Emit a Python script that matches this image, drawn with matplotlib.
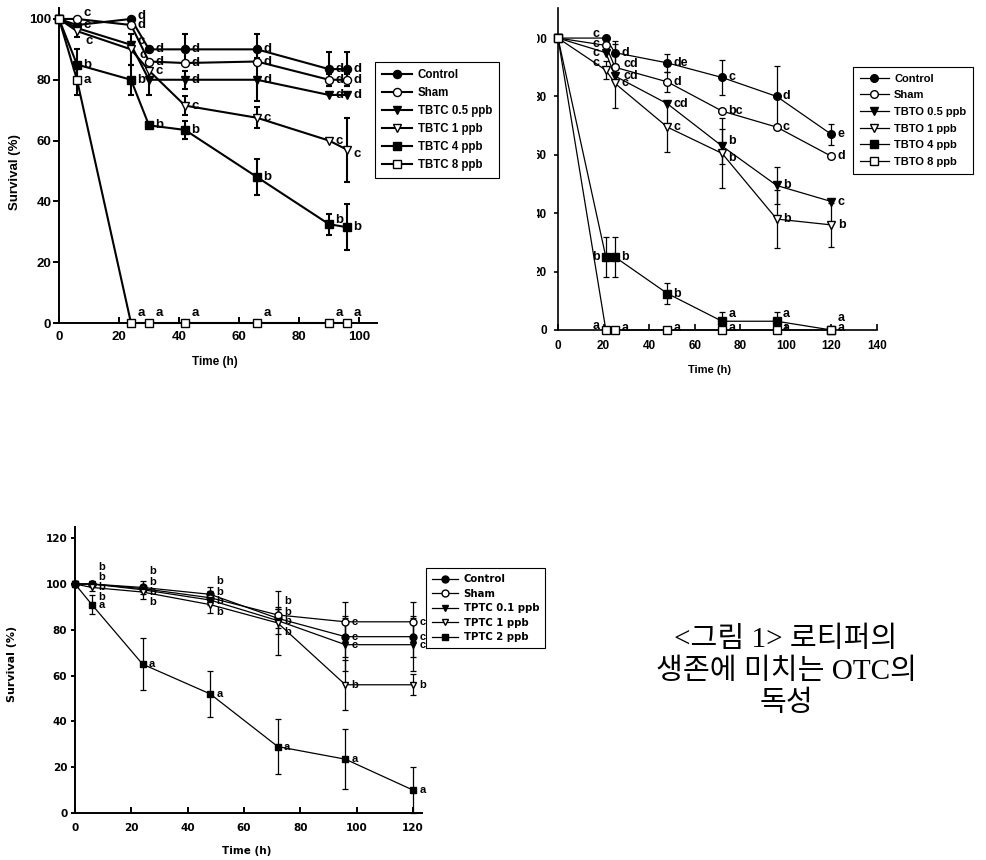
import matplotlib
matplotlib.use('Agg')
import matplotlib.pyplot as plt
from matplotlib.transforms import Bbox, TransformedBbox

W, H = 986, 860

# ---------------- data ----------------
# panel 1 : TBTC
tbtc_time = [0, 6, 24, 30, 42, 66, 90, 96]
tbtc_names = ['Control', 'Sham', 'TBTC 0.5 ppb', 'TBTC 1 ppb', 'TBTC 4 ppb', 'TBTC 8 ppb']
tbtc_mean = [
    [100, 98, 100, 90, 90, 90, 83.5, 83.5],
    [100, 100, 98, 86, 85.5, 86, 80, 80],
    [100, 97, 91.5, 80, 80, 80, 75, 75],
    [100, 96, 90, 83, 71.5, 67.5, 60, 57],
    [100, 85, 80, 65, 63.5, 48, 32.5, 31.5],
    [100, 80, 0, 0, 0, 0, 0, 0],
]
tbtc_err = [
    [0, 0, 0, 0, 5, 5, 5.5, 5.5],
    [0, 0, 0, 0, 0, 0, 2, 2],
    [0, 0, 0, 5, 3, 7, 0, 0],
    [0, 2, 5, 0, 3, 3.5, 0, 10.5],
    [0, 5, 5, 0, 3, 6, 3.5, 7.5],
    [0, 5, 0, 0, 0, 0, 0, 0],
]
tbtc_sig = [
    ['', 'c', 'd', 'd', 'd', 'd', 'd', 'd'],
    ['', 'c', 'd', 'd', 'd', 'd', 'd', 'd'],
    ['', '', 'c', '', 'd', 'd', 'd', 'd'],
    ['', 'c', 'c', 'c', 'c', 'c', 'c', 'c'],
    ['', 'b', 'b', 'b', 'b', 'b', 'b', 'b'],
    ['', 'a', 'a', 'a', 'a', 'a', 'a', 'a'],
]

# panel 2 : TBTO
tbto_time = [0, 21, 25, 48, 72, 96, 120]
tbto_names = ['Control', 'Sham', 'TBTO 0.5 ppb', 'TBTO 1 ppb', 'TBTO 4 ppb', 'TBTO 8 ppb']
tbto_mean = [
    [100, 100, 95, 91.5, 86.5, 80, 67],
    [100, 97.5, 90, 85, 75, 69.5, 59.5],
    [100, 95, 87, 77.5, 63, 49.5, 44],
    [100, 89, 84.5, 69.5, 60.5, 38, 36],
    [100, 25, 25, 12.5, 3, 3, 0],
    [100, 0, 0, 0, 0, 0, 0],
]
tbto_err = [
    [0, 0, 4, 3, 6, 10.5, 3.5],
    [0, 0, 0, 3.5, 0, 0, 0],
    [0, 0, 11, 0, 6, 6.5, 0],
    [0, 3, 0, 8.5, 12, 10, 7.5],
    [0, 7, 7, 3.5, 3, 3, 0],
    [0, 0, 0, 0, 0, 0, 0],
]
tbto_sig = [
    ['', 'c', 'd', 'de', 'c', 'd', 'e'],
    ['', 'c', 'cd', 'd', 'bc', 'c', 'd'],
    ['', 'c', 'cd', 'cd', 'b', 'b', 'c'],
    ['', 'c', 'c', 'c', 'b', 'b', 'b'],
    ['', 'b', 'b', 'b', 'a', 'a', 'a'],
    ['', 'a', 'a', 'a', 'a', 'a', 'a'],
]

# panel 3 : TPTC
tptc_time = [0, 6, 24, 48, 72, 96, 120]
tptc_names = ['Control', 'Sham', 'TPTC 0.1 ppb', 'TPTC 1 ppb', 'TPTC 2 ppb']
tptc_mean = [
    [100, 100, 98.5, 95.5, 85, 77, 77],
    [100, 100, 98, 94, 86.5, 83.5, 83.5],
    [100, 100, 97.5, 93, 84, 73.5, 73.5],
    [100, 98.5, 96.5, 91, 83, 56, 56],
    [100, 91, 65, 52, 29, 23.5, 10],
]
tptc_err = [
    [0, 0, 3, 3, 4, 9, 9],
    [0, 0, 0, 3, 2.5, 8.5, 8.5],
    [0, 0, 0, 0, 6, 11.5, 11.5],
    [0, 1.5, 3, 3.5, 14, 11, 4.5],
    [0, 4, 11.5, 10, 12, 13, 10],
]
tptc_sig = [
    ['', 'b', 'b', 'b', 'b', 'c', 'c'],
    ['', 'b', 'b', 'b', 'b', 'c', 'c'],
    ['', 'b', 'b', 'b', 'b', 'c', 'c'],
    ['', 'b', 'b', 'b', 'b', 'b', 'b'],
    ['', 'a', 'a', 'a', 'a', 'a', 'a'],
]

caption = ['<그림 1> 로티퍼의', '생존에 미치는 OTC의', '독성']

# marker style per series: (marker, face colour)
styles = [('o', 'black'), ('o', 'white'), ('v', 'black'), ('v', 'white'),
          ('s', 'black'), ('s', 'white')]


def fx(px):
    return px / W


def fy(py):
    return 1 - py / H


def axes_at(fig, x0, x1, ytop, ybot):
    return fig.add_axes([fx(x0), fy(ybot), (x1 - x0) / W, (ybot - ytop) / H])


def draw(ax, t, means, errs, sigs, lw, ms, cap, sfont, nudge, skip_sig=()):
    lines = []
    for i, (m, e) in enumerate(zip(means, errs)):
        mk, fc = styles[i]
        idx = [k for k in range(len(t)) if e[k] > 0]
        if idx:
            ax.errorbar([t[k] for k in idx], [m[k] for k in idx],
                        yerr=[e[k] for k in idx], fmt='none', ecolor='black',
                        elinewidth=lw, capsize=cap, capthick=lw,
                        clip_on=False, zorder=2)
        ln, = ax.plot(t, m, color='black', lw=lw, marker=mk, ms=ms, mfc=fc,
                      mec='black', mew=1.0, clip_on=False, zorder=3)
        lines.append(ln)
        for k, s in enumerate(sigs[i]):
            if not s or (i, k) in skip_sig:
                continue
            dx, dy, ha = nudge.get((i, k), (4.5, 0, 'left'))
            ax.annotate(s, (t[k], m[k]), xytext=(dx, dy),
                        textcoords='offset points', ha=ha, va='center',
                        fontsize=sfont, fontweight='bold', family='Liberation Sans',
                        annotation_clip=False, zorder=4)
    return lines


def style_axes(ax, lw, font, fam, xpad, ypad, ylen):
    for s in ['top', 'right']:
        ax.spines[s].set_visible(False)
    for s in ['left', 'bottom']:
        ax.spines[s].set_linewidth(lw)
    ax.tick_params(axis='x', direction='in', length=4, width=lw, pad=xpad)
    ax.tick_params(axis='y', direction='out', length=ylen, width=lw, pad=ypad)
    for lab in ax.get_xticklabels() + ax.get_yticklabels():
        lab.set_fontsize(font)
        lab.set_fontweight('bold')
        lab.set_family(fam)


def add_legend(fig, handles, names, x, y, font, fam, spacing, hlen):
    leg = fig.legend(handles, names, loc='upper left',
                     bbox_to_anchor=(fx(x), fy(y)), bbox_transform=fig.transFigure,
                     borderaxespad=0, fancybox=False, framealpha=1,
                     edgecolor='black', handlelength=hlen, handletextpad=0.5,
                     labelspacing=spacing, borderpad=0.6,
                     prop={'family': fam, 'weight': 'bold', 'size': font})
    leg.get_frame().set_linewidth(0.8)
    return leg


fig = plt.figure(figsize=(W / 100, H / 100), dpi=100)

# ---------------- panel 1 ----------------
ax1 = axes_at(fig, 59, 377, 8, 323)
ax1.set_xlim(0, 106)
ax1.set_ylim(0, 103.6)
ax1.set_xticks([0, 20, 40, 60, 80, 100])
ax1.set_yticks([0, 20, 40, 60, 80, 100])
nudge1 = {
    (1, 1): (4.5, 4.5, 'left'), (3, 1): (6, -7, 'left'),
    (0, 2): (4.5, 2, 'left'), (2, 2): (5, 2.5, 'left'), (3, 2): (6, -4, 'left'),
    (4, 6): (4.5, 3, 'left'), (3, 7): (5, -3, 'left'),
}
for k in range(2, len(tbtc_time)):
    nudge1[(5, k)] = (4.5, 7, 'left')
lines1 = draw(ax1, tbtc_time, tbtc_mean, tbtc_err, tbtc_sig, lw=1.5, ms=5.8,
              cap=2.5, sfont=9.5, nudge=nudge1)
style_axes(ax1, 1.4, 9.5, 'Liberation Sans', 6, 1.5, 4)
fig.text(fx(215), fy(362), 'Time (h)', ha='center', va='center',
         fontsize=8.5, fontweight='bold', family='Liberation Sans')
fig.text(fx(15), fy(172), 'Survival (%)', ha='center', va='center', rotation=90,
         fontsize=9.5, fontweight='bold', family='Liberation Sans')
add_legend(fig, lines1, tbtc_names, 375, 62, 8.3, 'Liberation Sans', 0.52, 2.6)

# ---------------- panel 2 ----------------
ax2 = axes_at(fig, 558, 877, 8, 330)
ax2.set_xlim(0, 140)
ax2.set_ylim(0, 110.3)
ax2.set_xticks([0, 20, 40, 60, 80, 100, 120, 140])
ax2.set_yticks([0, 20, 40, 60, 80, 100])
nudge2 = {
    (0, 1): (-4.5, 3, 'right'), (1, 1): (-4.5, 1, 'right'),
    (2, 1): (-4.5, 0, 'right'), (3, 1): (-4.5, 5, 'right'),
    (4, 1): (-4.5, 0, 'right'), (5, 1): (-4.5, 3, 'right'),
    (1, 2): (6, 2, 'left'), (2, 2): (6, 0, 'left'),
    (2, 4): (4.5, 3.5, 'left'), (3, 4): (4.5, -3, 'left'),
    (4, 4): (4.5, 5.5, 'left'), (4, 5): (4.5, 5.5, 'left'), (4, 6): (4.5, 8.5, 'left'),
}
for k in range(2, len(tbto_time)):
    nudge2[(5, k)] = (4.5, 1.5, 'left')
lines2 = draw(ax2, tbto_time, tbto_mean, tbto_err, tbto_sig, lw=0.9, ms=5.5,
              cap=2.5, sfont=9, nudge=nudge2)
style_axes(ax2, 1.2, 8.5, 'Liberation Sans', 7, 5, 3)
clip = TransformedBbox(Bbox([[fx(537), 0], [1, 1]]), fig.transFigure)
for lab in ax2.get_yticklabels():
    lab.set_clip_box(clip)
    lab.set_clip_on(True)
fig.text(fx(710), fy(370), 'Time (h)', ha='center', va='center',
         fontsize=8, fontweight='bold', family='Liberation Sans')
add_legend(fig, lines2, tbto_names, 853, 67, 8, 'Liberation Sans', 0.6, 2.6)

# ---------------- panel 3 ----------------
ax3 = axes_at(fig, 75, 422, 527, 813)
ax3.set_xlim(0, 123.2)
ax3.set_ylim(0, 124.9)
ax3.set_xticks([0, 20, 40, 60, 80, 100, 120])
ax3.set_yticks([0, 20, 40, 60, 80, 100, 120])
# the four upper curves share stacked letters at the early times
stack = [13, 5.5, -1.5, -9]
stacked = set()
for k in range(1, 5):
    mean_k = sum(tptc_mean[i][k] for i in range(4)) / 4
    order = sorted(range(4), key=lambda i: -tptc_mean[i][k])
    for r, i in enumerate(order):
        ax3.annotate(tptc_sig[i][k], (tptc_time[k], mean_k), xytext=(4.5, stack[r]),
                     textcoords='offset points', ha='left', va='center',
                     fontsize=8, fontweight='bold', family='Liberation Sans',
                     annotation_clip=False)
        stacked.add((i, k))
lines3 = draw(ax3, tptc_time, tptc_mean, tptc_err, tptc_sig, lw=0.9, ms=5,
              cap=2.5, sfont=8, nudge={}, skip_sig=stacked)
style_axes(ax3, 1.4, 7.5, 'DejaVu Sans', 7, 2.5, 3)
fig.text(fx(247), fy(851), 'Time (h)', ha='center', va='center',
         fontsize=7.5, fontweight='bold', family='DejaVu Sans')
fig.text(fx(12), fy(664), 'Survival (%)', ha='center', va='center', rotation=90,
         fontsize=8, fontweight='bold', family='DejaVu Sans')
add_legend(fig, lines3, tptc_names, 426, 568, 7.3, 'DejaVu Sans', 0.45, 2.6)

# ---------------- caption ----------------
for line, y in zip(caption, [640, 672, 704]):
    fig.text(fx(786), fy(y), line, ha='center', va='center', fontsize=21,
             family=['Liberation Serif', 'Noto Sans CJK KR'])

fig.savefig('out.png', dpi=100)
